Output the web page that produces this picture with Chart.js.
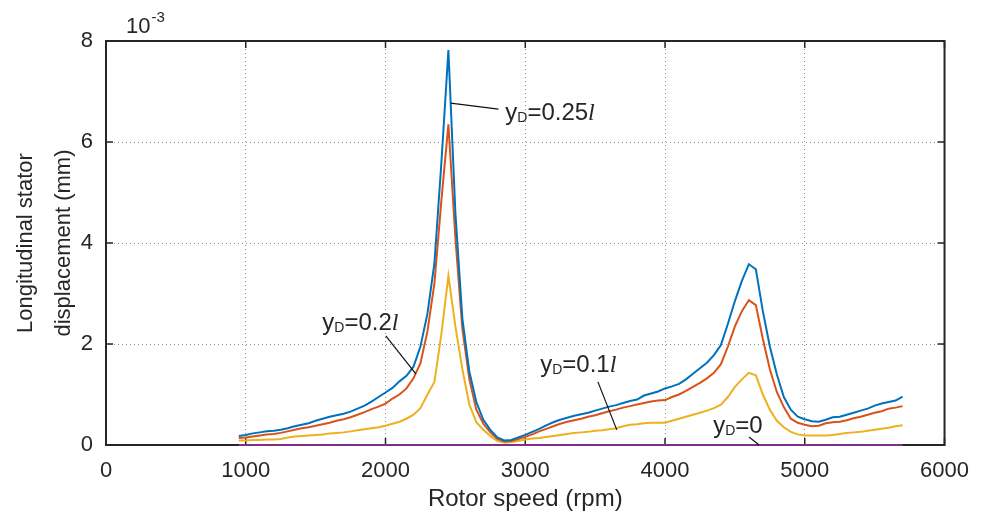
<!DOCTYPE html>
<html>
<head>
<meta charset="utf-8">
<script src="https://cdn.jsdelivr.net/npm/chart.js@4/dist/chart.umd.min.js"></script>
<style>
  html, body { margin: 0; padding: 0; background: #fff; }
  #wrap { width: 982px; height: 523px; }
</style>
</head>
<body>
<div id="wrap"><canvas id="myChart" width="982" height="523"></canvas></div>
<script>
// rotor speed (rpm)
var rpm = [
    950, 1000, 1050, 1100, 1150, 1200, 1250, 1300, 1350, 1400,
    1450, 1500, 1550, 1600, 1650, 1700, 1750, 1800, 1850, 1900,
    1950, 2000, 2050, 2100, 2150, 2200, 2250, 2300, 2350, 2400,
    2450, 2500, 2550, 2600, 2650, 2700, 2750, 2800, 2850, 2900,
    2950, 3000, 3050, 3100, 3150, 3200, 3250, 3300, 3350, 3400,
    3450, 3500, 3550, 3600, 3650, 3700, 3750, 3800, 3850, 3900,
    3950, 4000, 4050, 4100, 4150, 4200, 4250, 4300, 4350, 4400,
    4450, 4500, 4550, 4600, 4650, 4700, 4750, 4800, 4850, 4900,
    4950, 5000, 5050, 5100, 5150, 5200, 5250, 5300, 5350, 5400,
    5450, 5500, 5550, 5600, 5650, 5700
];

// displacement, x10^-3 mm
var yd025 = [
    0.18, 0.20, 0.23, 0.25, 0.27, 0.28, 0.30, 0.33, 0.37, 0.40,
    0.43, 0.48, 0.52, 0.56, 0.59, 0.62, 0.66, 0.72, 0.78, 0.86,
    0.95, 1.04, 1.13, 1.26, 1.37, 1.55, 1.95, 2.60, 3.60, 5.60,
    7.82, 4.60, 2.50, 1.45, 0.85, 0.50, 0.30, 0.15, 0.09, 0.10,
    0.15, 0.20, 0.26, 0.32, 0.39, 0.45, 0.50, 0.54, 0.58, 0.61,
    0.64, 0.68, 0.72, 0.76, 0.79, 0.83, 0.87, 0.90, 0.98, 1.02,
    1.06, 1.12, 1.16, 1.21, 1.30, 1.41, 1.52, 1.63, 1.78, 1.98,
    2.40, 2.85, 3.25, 3.58, 3.48, 2.65, 1.95, 1.40, 0.95, 0.70,
    0.56, 0.51, 0.47, 0.46, 0.50, 0.55, 0.56, 0.60, 0.64, 0.68,
    0.72, 0.78, 0.82, 0.85, 0.88, 0.96
];

var yd02 = [
    0.14, 0.15, 0.17, 0.19, 0.21, 0.22, 0.24, 0.27, 0.30, 0.33,
    0.35, 0.38, 0.41, 0.44, 0.48, 0.51, 0.55, 0.60, 0.65, 0.71,
    0.76, 0.82, 0.92, 1.00, 1.12, 1.32, 1.62, 2.25, 3.20, 4.85,
    6.35, 4.10, 2.30, 1.30, 0.70, 0.42, 0.25, 0.12, 0.07, 0.08,
    0.12, 0.16, 0.21, 0.27, 0.32, 0.37, 0.42, 0.46, 0.49, 0.52,
    0.56, 0.59, 0.63, 0.67, 0.70, 0.74, 0.77, 0.80, 0.83, 0.86,
    0.88, 0.89, 0.95, 1.00, 1.07, 1.15, 1.23, 1.32, 1.43, 1.60,
    1.95, 2.35, 2.65, 2.87, 2.77, 2.10, 1.50, 1.05, 0.75, 0.52,
    0.44, 0.40, 0.37, 0.38, 0.43, 0.45, 0.46, 0.49, 0.53, 0.56,
    0.60, 0.64, 0.67, 0.72, 0.74, 0.77
];

var yd01 = [
    0.09, 0.09, 0.10, 0.10, 0.11, 0.11, 0.12, 0.15, 0.17, 0.18,
    0.19, 0.20, 0.21, 0.23, 0.24, 0.25, 0.27, 0.29, 0.31, 0.33,
    0.35, 0.38, 0.42, 0.46, 0.52, 0.60, 0.73, 1.00, 1.25, 2.20,
    3.35, 2.35, 1.50, 0.80, 0.45, 0.30, 0.18, 0.08, 0.05, 0.06,
    0.08, 0.11, 0.13, 0.14, 0.16, 0.18, 0.20, 0.22, 0.24, 0.25,
    0.26, 0.28, 0.29, 0.31, 0.33, 0.37, 0.40, 0.41, 0.43, 0.44,
    0.44, 0.44, 0.48, 0.52, 0.56, 0.60, 0.64, 0.68, 0.73, 0.80,
    0.95, 1.15, 1.30, 1.43, 1.38, 1.00, 0.70, 0.48, 0.35, 0.26,
    0.21, 0.19, 0.19, 0.19, 0.19, 0.20, 0.22, 0.24, 0.25, 0.26,
    0.28, 0.30, 0.32, 0.34, 0.37, 0.39
];

var yd0 = [
    0, 0, 0, 0, 0, 0, 0, 0, 0, 0,
    0, 0, 0, 0, 0, 0, 0, 0, 0, 0,
    0, 0, 0, 0, 0, 0, 0, 0, 0, 0,
    0, 0, 0, 0, 0, 0, 0, 0, 0, 0,
    0, 0, 0, 0, 0, 0, 0, 0, 0, 0,
    0, 0, 0, 0, 0, 0, 0, 0, 0, 0,
    0, 0, 0, 0, 0, 0, 0, 0, 0, 0,
    0, 0, 0, 0, 0, 0, 0, 0, 0, 0,
    0, 0, 0, 0, 0, 0, 0, 0, 0, 0,
    0, 0, 0, 0, 0, 0
];

// curve labels: text anchor (rpm, value), leader line start and end
var labels = [
    { val: "0.25", text: [2857, 6.44], from: [2466, 6.77], to: [2808, 6.65] },
    { val: "0.2", text: [1548, 2.28], from: [2002, 2.16], to: [2217, 1.41] },
    { val: "0.1", text: [3107, 1.45], from: [3520, 1.25], to: [3655, 0.30] },
    { val: "0", text: [4345, 0.24], from: [4601, 0.16], to: [4673, 0.0], noL: true },
];

var FONT = "'Liberation Sans', Arial, sans-serif";
var TXT = "#262626";

function pts(arr) {
    var out = [];
    arr.forEach(function (v, i) {
        out.push({ x: rpm[i], y: v });
    });
    return out;
}

function drawYd(ctx, x, y, val, noL) {
    ctx.fillStyle = TXT;
    ctx.textBaseline = "alphabetic";
    ctx.textAlign = "left";
    ctx.font = "24px " + FONT;
    ctx.fillText("y", x, y);
    x += ctx.measureText("y").width;
    ctx.font = "14px " + FONT;
    ctx.fillText("D", x, y + 2);
    x += ctx.measureText("D").width;
    ctx.font = "24px " + FONT;
    ctx.fillText("=" + val, x, y);
    x += ctx.measureText("=" + val).width;
    if (!noL) {
        ctx.font = "italic 24px 'Liberation Serif', serif";
        ctx.fillText("l", x, y);
    }
}

var framePlugin = {
    id: "frame",
    beforeDatasetsDraw: function (chart) {
        var ctx = chart.ctx;
        var a = chart.chartArea;
        var xs = chart.scales.x;
        var ys = chart.scales.y;
        ctx.save();
        ctx.strokeStyle = TXT;
        ctx.lineWidth = 2;
        ctx.strokeRect(a.left, a.top, a.right - a.left, a.bottom - a.top);
        ctx.lineWidth = 1.5;
        ctx.beginPath();
        xs.ticks.forEach(function (t) {
            var px = xs.getPixelForValue(t.value);
            ctx.moveTo(px, a.top);
            ctx.lineTo(px, a.top + 7);
            ctx.moveTo(px, a.bottom);
            ctx.lineTo(px, a.bottom - 7);
        });
        ys.ticks.forEach(function (t) {
            var py = ys.getPixelForValue(t.value);
            ctx.moveTo(a.left, py);
            ctx.lineTo(a.left + 7, py);
            ctx.moveTo(a.right, py);
            ctx.lineTo(a.right - 7, py);
        });
        ctx.stroke();
        ctx.restore();
    },
    afterDraw: function (chart) {
        var ctx = chart.ctx;
        var a = chart.chartArea;
        var xs = chart.scales.x;
        var ys = chart.scales.y;
        ctx.save();

        // leader lines + labels
        labels.forEach(function (l) {
            ctx.strokeStyle = "#111";
            ctx.lineWidth = 1.2;
            ctx.beginPath();
            ctx.moveTo(xs.getPixelForValue(l.from[0]), ys.getPixelForValue(l.from[1]));
            ctx.lineTo(xs.getPixelForValue(l.to[0]), ys.getPixelForValue(l.to[1]));
            ctx.stroke();
            drawYd(ctx, xs.getPixelForValue(l.text[0]), ys.getPixelForValue(l.text[1]), l.val, l.noL);
        });

        // exponent
        ctx.fillStyle = TXT;
        ctx.textAlign = "left";
        ctx.textBaseline = "alphabetic";
        ctx.font = "22px " + FONT;
        ctx.fillText("10", a.left + 20, a.top - 8);
        var w = ctx.measureText("10").width;
        ctx.font = "15px " + FONT;
        ctx.fillText("-3", a.left + 20 + w + 1, a.top - 19);

        // axis titles
        ctx.font = "24px " + FONT;
        ctx.textAlign = "center";
        ctx.fillText("Rotor speed (rpm)", (a.left + a.right) / 2, 506);

        ctx.font = "22px " + FONT;
        ctx.translate(0, (a.top + a.bottom) / 2);
        ctx.rotate(-Math.PI / 2);
        ctx.fillText("Longitudinal stator", 0, 32);
        ctx.fillText("displacement (mm)", 0, 70);
        ctx.restore();
    },
};

const ctx = document.getElementById("myChart").getContext("2d");
const myChart = new Chart(ctx, {
    type: "line",
    plugins: [framePlugin],
    data: {
        datasets: [
            {
                label: "yD=0.25l",
                data: pts(yd025),
                borderColor: "#0072BD",
            },
            {
                label: "yD=0.2l",
                data: pts(yd02),
                borderColor: "#D95319",
            },
            {
                label: "yD=0.1l",
                data: pts(yd01),
                borderColor: "#EDB120",
            },
            {
                label: "yD=0",
                data: pts(yd0),
                borderColor: "#7E2F8E",
                clip: 4,
            },
        ],
    },
    options: {
        responsive: false,
        animation: false,
        layout: {
            padding: { left: 0, top: 41, right: 32, bottom: 0 },
        },
        elements: {
            point: { radius: 0 },
            line: { borderWidth: 2, tension: 0 },
        },
        plugins: {
            legend: { display: false },
            tooltip: { enabled: false },
        },
        scales: {
            x: {
                type: "linear",
                min: 0,
                max: 6000,
                afterFit: function (scale) {
                    scale.height = 78;
                },
                grid: {
                    color: "rgba(0,0,0,0.45)",
                    lineWidth: 1,
                    drawTicks: false,
                },
                border: { display: false, dash: [1, 3] },
                ticks: {
                    stepSize: 1000,
                    padding: 13,
                    color: TXT,
                    font: { family: FONT, size: 22 },
                    maxRotation: 0,
                    callback: function (value) {
                        return value;
                    },
                },
            },
            y: {
                min: 0,
                max: 8,
                afterFit: function (scale) {
                    scale.width = 106;
                },
                grid: {
                    color: "rgba(0,0,0,0.45)",
                    lineWidth: 1,
                    drawTicks: false,
                },
                border: { display: false, dash: [1, 3] },
                ticks: {
                    stepSize: 2,
                    padding: 13,
                    color: TXT,
                    font: { family: FONT, size: 22 },
                },
            },
        },
    },
});
</script>
</body>
</html>
